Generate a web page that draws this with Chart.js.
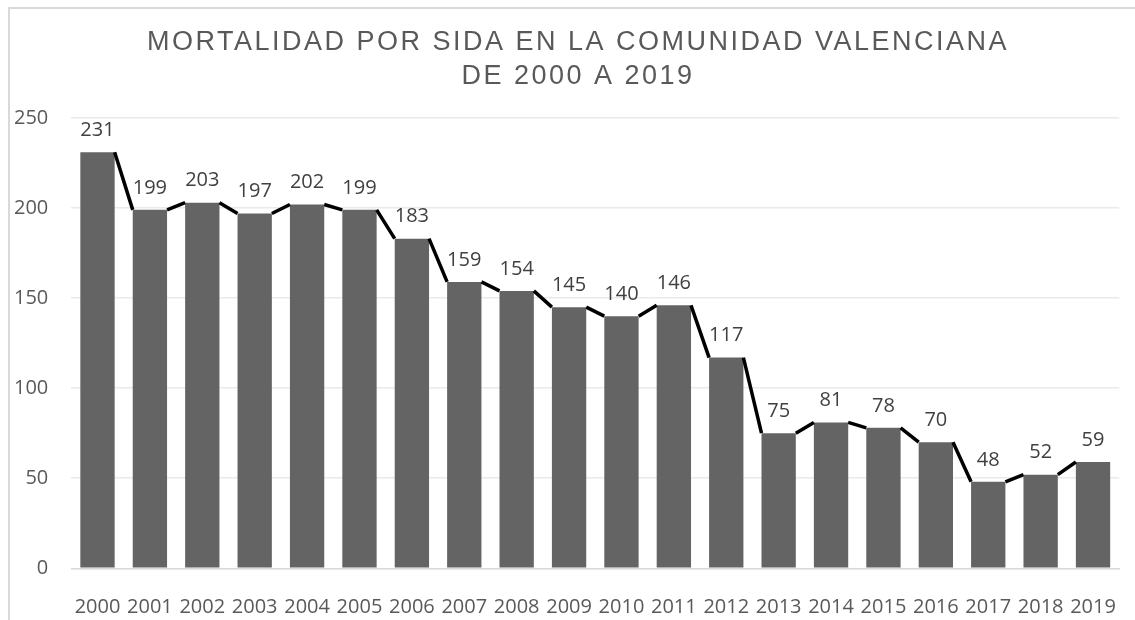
<!DOCTYPE html>
<html>
<head>
    <title>Mortalidad por SIDA</title>
    <script src="https://cdn.jsdelivr.net/npm/chart.js"></script>
    <style>
        body { margin: 0; background: #fff; }
        #wrap { position: relative; width: 1135px; height: 620px; overflow: hidden; }
        #frame { position: absolute; left: 8px; top: 7px; width: 1140px; height: 630px;
                 border: 2px solid #d9d9d9; pointer-events: none; }
    </style>
</head>
<body>
<div id="wrap">
    <canvas id="myChart" width="1135" height="620"></canvas>
    <div id="frame"></div>
</div>
<script>
const years = ['2000','2001','2002','2003','2004','2005','2006','2007','2008','2009',
               '2010','2011','2012','2013','2014','2015','2016','2017','2018','2019'];
const deaths = [231,199,203,197,202,199,183,159,154,145,140,146,117,75,81,78,70,48,52,59];
const titleLines = ['MORTALIDAD POR SIDA EN LA COMUNIDAD VALENCIANA', 'DE 2000 A 2019'];
const yTicks = [0, 50, 100, 150, 200, 250];

const tickFont = { family: '"Open Sans"', size: 20 };

// line joining the top corners of neighbouring bars, value labels and title
const overlay = {
    id: 'overlay',
    afterDraw(chart) {
        const ctx = chart.ctx;
        const bars = chart.getDatasetMeta(0).data;
        ctx.save();
        ctx.strokeStyle = '#000';
        ctx.lineWidth = 3.5;
        ctx.beginPath();
        for (let i = 0; i < bars.length - 1; i++) {
            const a = bars[i], b = bars[i + 1];
            ctx.moveTo(a.x + a.width / 2, a.y);
            ctx.lineTo(b.x - b.width / 2, b.y);
        }
        ctx.stroke();

        ctx.fillStyle = '#404040';
        ctx.font = '20px "Open Sans"';
        ctx.textAlign = 'center';
        ctx.textBaseline = 'middle';
        bars.forEach((bar, i) => {
            ctx.fillText(String(deaths[i]), bar.x, bar.y - 22);
        });

        ctx.fillStyle = '#595959';
        ctx.font = '27px "Liberation Sans"';
        ctx.letterSpacing = '2.5px';
        ctx.fillText(titleLines[0], 578, 43);
        ctx.fillText(titleLines[1], 578, 77);
        ctx.letterSpacing = '0px';
        ctx.restore();
    }
};

const ctx = document.getElementById('myChart').getContext('2d');
const myChart = new Chart(ctx, {
    type: 'bar',
    data: {
        labels: years,
        datasets: [{
            data: deaths,
            backgroundColor: '#646464',
            barPercentage: 0.655,
            categoryPercentage: 1
        }]
    },
    options: {
        responsive: false,
        animation: false,
        layout: { padding: { top: 118, right: 4, bottom: 0, left: 0 } },
        plugins: {
            legend: { display: false },
            tooltip: { enabled: false }
        },
        scales: {
            x: {
                z: 1,
                grid: { display: false },
                border: { display: true, color: '#d9d9d9', width: 1.5 },
                ticks: { color: '#595959', font: tickFont, padding: 19, maxRotation: 0, autoSkip: false },
                afterFit(scale) { scale.height = 51.7; }
            },
            y: {
                z: 1,
                min: 0,
                max: 250,
                afterBuildTicks(scale) { scale.ticks = yTicks.map(v => ({ value: v })); },
                grid: { color: 'rgba(190,190,190,0.32)', lineWidth: 1.5, drawTicks: false },
                border: { display: false },
                ticks: { color: '#595959', font: tickFont, padding: 23 },
                afterFit(scale) { scale.width = 71.3; }
            }
        }
    },
    plugins: [overlay]
});
</script>
</body>
</html>
